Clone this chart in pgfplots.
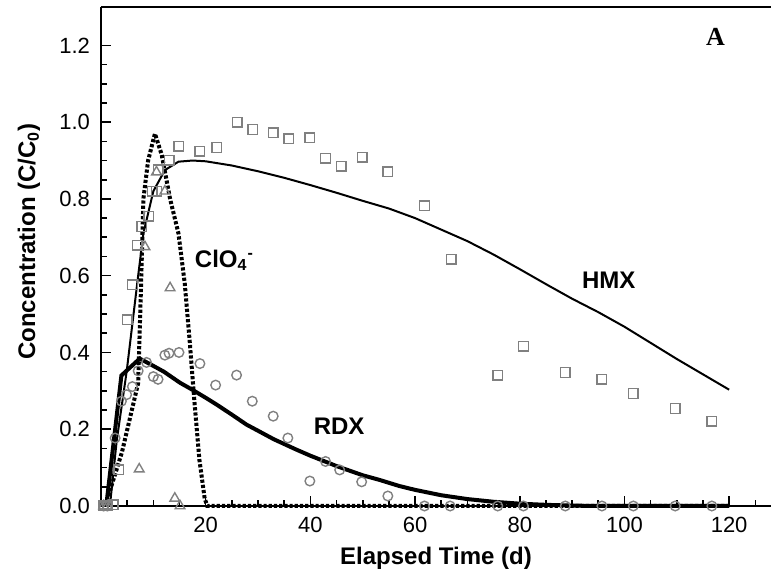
\documentclass[border=0pt]{standalone}
\usepackage{pgfplots}
\pgfplotsset{compat=1.18}
\usepackage{fontspec}
\setmainfont{Liberation Sans}
\newfontfamily\timesfont{Liberation Serif}
\begin{document}
\begin{tikzpicture}
\begin{axis}[
  scale only axis,
  width=335pt, height=249.5pt,
  xmin=0, xmax=128, ymin=0, ymax=1.3,
  axis x line*=box, axis y line*=left,
  axis line style={line width=1pt},
  xtick={20,40,...,120}, minor xtick={0,5,...,125},
  ytick={0,0.2,...,1.2}, minor y tick num=3,
  xtick pos=left, ytick pos=left,
  tick align=inside,
  major tick length=5pt, minor tick length=3pt,
  every tick/.style={black, line width=0.8pt},
  /pgf/number format/assume math mode=true,
  yticklabel style={/pgf/number format/fixed, /pgf/number format/fixed zerofill, /pgf/number format/precision=1, xshift=-2pt},
  tick label style={font=\fontsize{11}{13}\selectfont},
  xticklabel style={yshift=-2pt},
  xlabel={\bfseries Elapsed Time (d)},
  ylabel={\bfseries Concentration (C/C\textsubscript{0})},
  label style={font=\fontsize{12}{14}\selectfont\bfseries},
  xlabel style={at={(rel axis cs:0.5,0)}, anchor=center, yshift=-26pt},
  ylabel style={at={(axis description cs:-0.1075,0.53)}, anchor=center},
  clip=false,
]
% HMX data (squares)
\addplot[only marks, mark=square, mark size=2.4pt, black!50, mark options={line width=0.7pt}] coordinates {
(0.5,0) (1.2,0) (2.3,0.003) (3.4,0.094) (5.0,0.485) (6.0,0.576) (6.9,0.679) (7.8,0.728)
(9.1,0.755) (9.8,0.82) (10.6,0.82) (10.9,0.876) (13.0,0.901) (14.9,0.937) (18.9,0.924)
(22.1,0.934) (26.0,1.0) (29.0,0.981) (32.9,0.972) (35.9,0.957) (39.9,0.959) (42.9,0.906)
(45.9,0.885) (49.9,0.909) (54.8,0.871) (61.8,0.782) (66.9,0.643) (75.8,0.341) (80.7,0.416)
(88.7,0.348) (95.7,0.330) (101.7,0.293) (109.7,0.254) (116.7,0.221)
};
% RDX data (circles)
\addplot[only marks, mark=o, mark size=2.4pt, black!50, mark options={line width=0.7pt}] coordinates {
(0.5,0) (1.2,0) (2.7,0.177) (3.9,0.273) (4.9,0.29) (6.0,0.311) (7.1,0.352) (8.7,0.374)
(10.0,0.337) (10.9,0.33) (12.2,0.393) (13.0,0.398) (14.9,0.40) (18.9,0.371) (21.9,0.315)
(25.9,0.341) (28.9,0.273) (32.9,0.234) (35.7,0.177) (39.9,0.065) (42.9,0.116) (45.6,0.094)
(49.8,0.063) (54.8,0.026) (61.8,0) (66.7,0) (75.8,0) (80.7,0) (88.7,0) (95.7,0)
(101.7,0) (109.7,0) (116.7,0)
};
% ClO4 data (triangles)
\addplot[only marks, mark=triangle, mark size=2.8pt, black!50, mark options={line width=0.7pt}] coordinates {
(0.5,0) (1.2,0) (7.3,0.096) (8.4,0.675) (10.6,0.87) (12.2,0.82) (13.2,0.568) (14.1,0.02) (15.1,0)
};
% HMX model
\addplot[black, line width=1pt] coordinates {
(1.7,0) (3.0,0.17) (4.9,0.35) (7.1,0.60) (8.1,0.71) (10.0,0.82) (12.2,0.875) (14.8,0.897)
(17.5,0.90) (20,0.898) (25,0.887) (30,0.872) (35,0.855) (40,0.836) (45,0.816) (50,0.795)
(55,0.775) (60,0.750) (65,0.72) (70,0.69) (75,0.655) (80,0.617) (85,0.578) (90,0.54)
(95,0.505) (100,0.467) (105,0.425) (110,0.383) (115,0.343) (120,0.303)
};
% RDX model
\addplot[black, line width=2pt] coordinates {
(1.0,0) (3.9,0.34) (7.4,0.384) (10,0.365) (12,0.35) (15.1,0.321) (17.3,0.304) (20,0.282)
(22,0.265) (25,0.238) (27.8,0.212) (30,0.196) (33,0.174) (37.3,0.147) (40,0.131) (45,0.104)
(50,0.08) (53.2,0.068) (57,0.052) (60,0.042) (65,0.028) (70,0.018) (75,0.011) (80,0.006)
(85,0.003) (90,0.001) (95,0) (120,0)
};
% ClO4 model
\addplot[black, line width=2pt, dash pattern=on 1.6pt off 1pt] coordinates {
(0.8,0) (4.0,0.14) (7.1,0.32) (7.6,0.55) (8.1,0.80) (9.0,0.90) (10.3,0.97) (11.6,0.915)
(13.2,0.80) (14.8,0.71) (16.0,0.58) (17.0,0.42) (17.8,0.28) (18.8,0.12) (19.8,0.02)
(20.3,0) (120,0)
};
\node[font=\fontsize{12}{14}\selectfont\bfseries] at (axis cs:97,0.588) {HMX};
\node[font=\fontsize{12}{14}\selectfont\bfseries] at (axis cs:45.5,0.208) {RDX};
\node[font=\fontsize{12}{14}\selectfont\bfseries, anchor=west] at (axis cs:16.6,0.64) {ClO\textsubscript{4}\textsuperscript{-}};
\node[font=\fontsize{13}{15}\selectfont\timesfont\bfseries] at (axis cs:117.4,1.222) {A};
\coordinate (bl) at (rel axis cs:0,0);
\coordinate (tr) at (rel axis cs:1,1);
\end{axis}
\pgfresetboundingbox
\path ([xshift=-50.5pt,yshift=-35pt]bl) rectangle ([yshift=3.5pt]tr);
\end{tikzpicture}
\end{document}
